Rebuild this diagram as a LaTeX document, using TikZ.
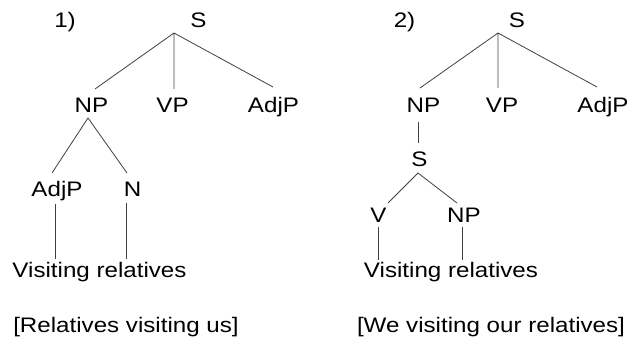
\documentclass[tikz,border=0pt]{standalone}
\usepackage{fontspec}
\setmainfont{Liberation Sans}[FakeStretch=1.15]
\begin{document}
\begin{tikzpicture}[x=1pt,y=-1pt,
  lbl/.style={anchor=base,inner sep=0pt,font=\fontsize{21}{25}\selectfont},
  edge/.style={draw=black!75,line width=0.8pt}]
\useasboundingbox (0,0) rectangle (633,342);
% ---- tree 1 ----
\node[lbl] (n1) at (65,28) {1)};
\node[lbl] (s1) at (198.5,28) {S};
\node[lbl] (np1) at (91.5,113) {NP};
\node[lbl] (vp1) at (172.5,113) {VP};
\node[lbl] (adjp1) at (273.5,113) {AdjP};
\node[lbl] (adjq1) at (57,197) {AdjP};
\node[lbl] (nn1) at (132.5,197) {N};
\node[lbl] (vis1) at (99.5,278) {Visiting relatives};
\node[lbl] (gl1) at (126,333) {[Relatives visiting us]};
\coordinate (a1) at (174,33);
\coordinate (e1np) at (95,89);
\coordinate (e1vp) at (174,89);
\coordinate (e1adj) at (273,87);
\coordinate (b1) at (88,118);
\coordinate (e1l) at (52,173);
\coordinate (e1r) at (127,173);
\coordinate (c1t) at (55,204);
\coordinate (c1b) at (55,259);
\coordinate (d1t) at (126,203);
\coordinate (d1b) at (126,259);
\draw[edge] (e1np) -- (a1) -- (e1adj) (a1) -- (e1vp);
\draw[edge] (e1l) -- (b1) -- (e1r);
\draw[edge] (c1t) -- (c1b) (d1t) -- (d1b);
% ---- tree 2 ----
\node[lbl] (n2) at (404.5,28) {2)};
\node[lbl] (s2) at (517,28) {S};
\node[lbl] (np2) at (423.5,113) {NP};
\node[lbl] (vp2) at (502,113) {VP};
\node[lbl] (adjp2) at (603,113) {AdjP};
\node[lbl] (s2b) at (419.5,167) {S};
\node[lbl] (v2) at (378.5,223) {V};
\node[lbl] (np3) at (464,223) {NP};
\node[lbl] (vis2) at (451,278) {Visiting relatives};
\node[lbl] (gl2) at (491,333) {[We visiting our relatives]};
\coordinate (a2) at (498,33);
\coordinate (e2np) at (420,88);
\coordinate (e2vp) at (498,88);
\coordinate (e2adj) at (597,87);
\coordinate (f2t) at (418,122);
\coordinate (f2b) at (418,143);
\coordinate (b2) at (418,173);
\coordinate (e2l) at (388,203);
\coordinate (e2r) at (457,203);
\coordinate (c2t) at (378,227);
\coordinate (c2b) at (378,260);
\coordinate (d2t) at (462,227);
\coordinate (d2b) at (462,260);
\draw[edge] (e2np) -- (a2) -- (e2adj) (a2) -- (e2vp);
\draw[edge] (f2t) -- (f2b);
\draw[edge] (e2l) -- (b2) -- (e2r);
\draw[edge] (c2t) -- (c2b) (d2t) -- (d2b);
\end{tikzpicture}
\end{document}
